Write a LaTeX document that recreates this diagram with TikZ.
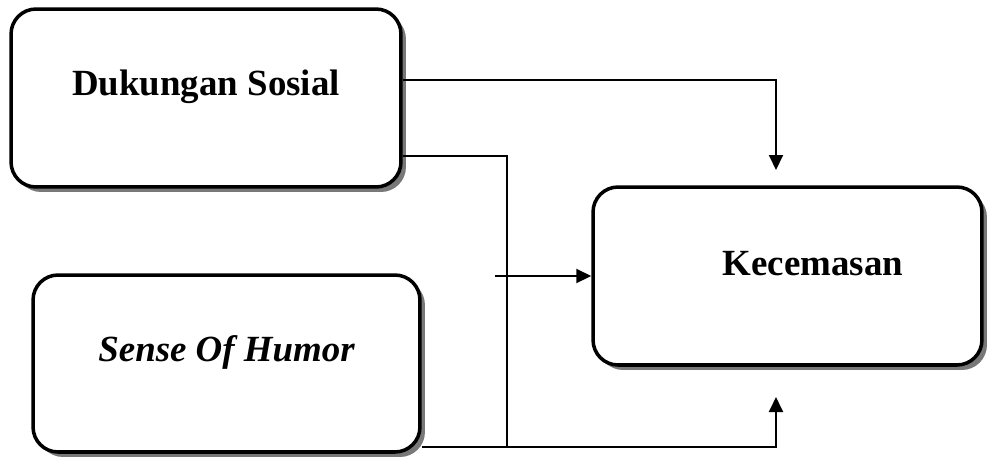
\documentclass[tikz,border=0pt]{standalone}
\usepackage{fontspec}
\setmainfont{Liberation Serif}
\usetikzlibrary{arrows.meta, shadows, positioning}
\definecolor{InkBlack}{RGB}{0, 0, 0}
\definecolor{ShadowGrey}{RGB}{120, 120, 120}

\tikzset{
  varbox/.style={draw=InkBlack, line width=2pt, rounded corners=0.5cm, fill=white,
    minimum width=7.8cm, minimum height=3.56cm,
    drop shadow={shadow xshift=0.1cm, shadow yshift=-0.1cm, fill=ShadowGrey, opacity=1}},
  varlabel/.style={anchor=base, font=\fontsize{21}{25}\selectfont\bfseries},
  link/.style={InkBlack, line width=1.1pt, -{Triangle[length=0.3cm, width=0.28cm]}},
  plain/.style={InkBlack, line width=1.1pt}
}

\begin{document}
\begin{tikzpicture}[x=0.02cm, y=-0.02cm]
    \useasboundingbox (0,0) rectangle (988,458);
    % Variabel
    \node[varbox] (ds) at (206,98) {};
    \node[varbox, minimum width=7.74cm, minimum height=3.54cm] (sh) at (226.5,363.5) {};
    \node[varbox, minimum width=7.78cm] (kc) at (787.5,276) {};
    \node[varlabel] (dslabel) at ([yshift=0.06cm]ds.center) {Dukungan Sosial};
    \node[varlabel] (shlabel) at ([yshift=0.05cm]sh.center) {\itshape Sense Of Humor};
    \node[varlabel] (kclabel) at ([xshift=0.51cm, yshift=0.02cm]kc.center) {Kecemasan};
    % Titik belok
    \coordinate (upin) at (776,170);
    \coordinate (joint) at (507,447);
    \coordinate (lowin) at (776,397);
    \coordinate (midin) at (495,276);
    % Hubungan
    \draw[link] ([yshift=0.36cm]ds.east) -| (upin);
    \draw[plain] ([yshift=-1.16cm]ds.east) -| (joint);
    \draw[link] ([yshift=-1.67cm]sh.east) -| (lowin);
    \draw[link] (midin) -- (kc.west);
\end{tikzpicture}
\end{document}
